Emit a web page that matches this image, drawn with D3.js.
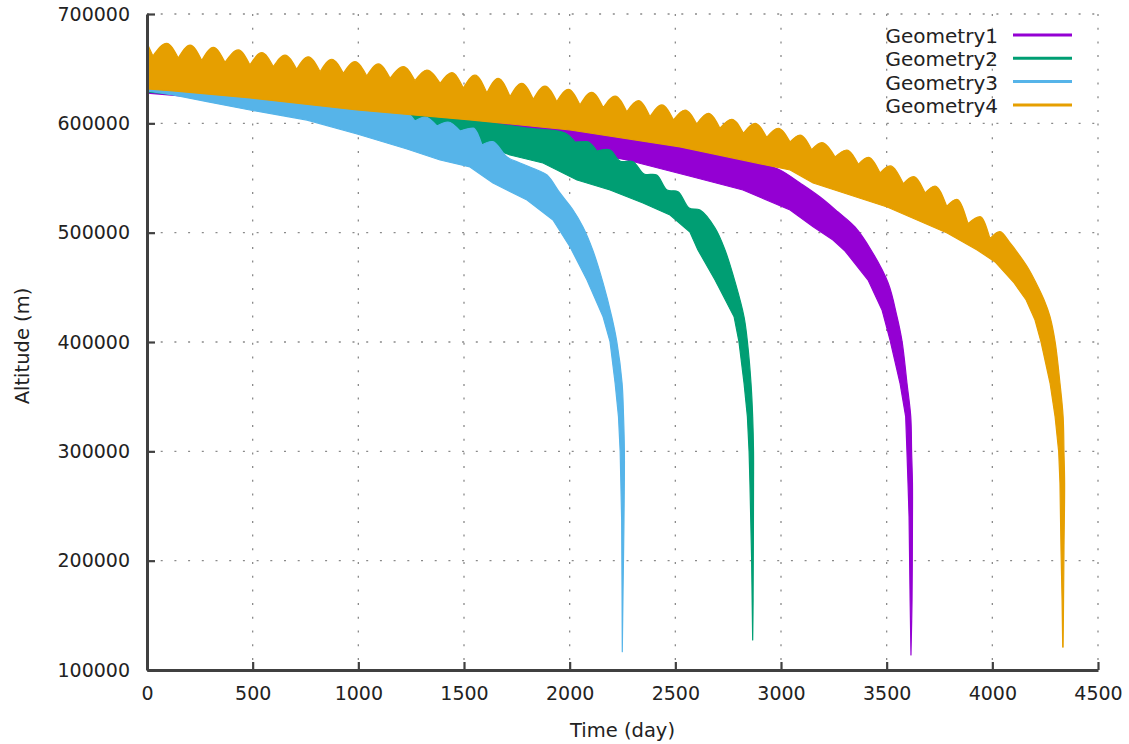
<!DOCTYPE html>
<html>
<head>
<meta charset="utf-8">
<script src="https://cdn.jsdelivr.net/npm/d3@7"></script>
<style>
  body { margin: 0; background: #fff; }
  text { font-family: "DejaVu Sans", sans-serif; fill: #222; }
</style>
</head>
<body>
<svg id="chart" width="1129" height="744"></svg>
<script>
// legend names, in draw order (later ones on top)
const seriesNames = ['Geometry1', 'Geometry2', 'Geometry3', 'Geometry4']

// tick values
const xTicks = [0, 500, 1000, 1500, 2000, 2500, 3000, 3500, 4000, 4500]
const yTicks = [100000, 200000, 300000, 400000, 500000, 600000, 700000]

// each run is a band: upper and lower envelope, [day, altitude m]
const geometry1Upper = [
  [0, 655000], [1197, 635100], [1812, 604900], [2144, 591200], [2617, 577400],
  [2901, 563700], [2995, 557300], [3090, 545400], [3185, 532600], [3270, 518900],
  [3350, 505200], [3426, 484200], [3507, 454000], [3549, 423100], [3573, 400300],
  [3596, 362500], [3614, 331700], [3618, 299700], [3622, 271100], [3622, 237200],
  [3620, 164000], [3615, 113700]
]
const geometry1Lower = [
  [0, 627700], [961, 612200], [1528, 598500], [1860, 584800], [2016, 575600],
  [2271, 566500], [2584, 550900], [2820, 539000], [3043, 520700], [3152, 505500],
  [3246, 493300], [3303, 483200], [3412, 456700], [3478, 429300], [3516, 401800],
  [3563, 362500], [3590, 331700], [3596, 299700], [3601, 271100], [3606, 240200],
  [3611, 164000], [3615, 113700]
]

const geometry2Upper = [
  [0, 655000], [724, 642000], [1268, 614000], [1481, 606100], [1637, 600300],
  [1798, 595700], [1978, 591200], [2025, 582900], [2082, 583200], [2129, 574700],
  [2191, 575600], [2238, 565600], [2300, 564900], [2352, 553700], [2412, 552700],
  [2461, 539000], [2513, 537500], [2565, 522600], [2617, 520700], [2688, 504300],
  [2735, 484200], [2784, 454000], [2825, 423100], [2841, 400300], [2858, 362500],
  [2866, 331700], [2870, 299700], [2870, 271100], [2868, 164000], [2866, 127500]
]
const geometry2Lower = [
  [0, 628700], [961, 610400], [1528, 584800], [1718, 571000], [1874, 563700],
  [2035, 548200], [2191, 539000], [2347, 527100], [2475, 516200], [2569, 500600],
  [2607, 484200], [2688, 456700], [2778, 423100], [2801, 400300], [2825, 362500],
  [2841, 331700], [2849, 299700], [2853, 271100], [2861, 200600], [2866, 127500]
]

const geometry3Upper = [
  [0, 654000], [724, 641000], [1232, 609500], [1268, 602100], [1316, 605800],
  [1372, 597600], [1424, 601200], [1481, 593000], [1543, 595700], [1585, 580200],
  [1637, 583200], [1704, 569200], [1765, 563700], [1846, 557300], [1893, 552700],
  [1954, 536300], [2016, 520700], [2063, 505200], [2109, 484200], [2158, 454000],
  [2199, 423100], [2223, 400300], [2248, 362500], [2255, 331700], [2259, 299700],
  [2257, 237200], [2252, 164000], [2249, 116800]
]
const geometry3Lower = [
  [0, 629600], [123, 625900], [284, 619800], [487, 612200], [757, 603000],
  [994, 590200], [1230, 576500], [1387, 566500], [1528, 560100], [1637, 545400],
  [1798, 529900], [1921, 511600], [2002, 486900], [2082, 456700], [2158, 423100],
  [2191, 400300], [2215, 362500], [2231, 331700], [2239, 299700], [2246, 237200],
  [2248, 164000], [2249, 116800]
]

const geometry4Upper = [
  [0, 673500], [28, 661600], [93, 673200], [148, 659800], [204, 671600],
  [259, 657500], [314, 669500], [369, 655800], [432, 667100], [487, 653400],
  [543, 664600], [598, 651800], [653, 662500], [708, 649400], [763, 660900],
  [819, 647200], [874, 658600], [929, 645800], [984, 656400], [1040, 643300],
  [1095, 654300], [1150, 641200], [1213, 651800], [1268, 639000], [1324, 648800],
  [1387, 636600], [1442, 646300], [1497, 632300], [1552, 644200], [1608, 627700],
  [1662, 641200], [1718, 624400], [1773, 636600], [1828, 622000], [1883, 634100],
  [1939, 619800], [1994, 631100], [2049, 616800], [2104, 628400], [2159, 614300],
  [2215, 625000], [2270, 610600], [2325, 620700], [2380, 606100], [2436, 616800],
  [2491, 603100], [2546, 612200], [2601, 599400], [2656, 609200], [2711, 595500],
  [2767, 603700], [2822, 590900], [2877, 600000], [2932, 587200], [2987, 595500],
  [3043, 582900], [3090, 589300], [3145, 575900], [3193, 582300], [3256, 569200],
  [3311, 575600], [3366, 562500], [3413, 568900], [3469, 554600], [3516, 561000],
  [3579, 544800], [3626, 551200], [3682, 536300], [3729, 542700], [3784, 524100],
  [3832, 530500], [3885, 508200], [3942, 514600], [3989, 494500], [4036, 500900],
  [4084, 490600], [4117, 482300], [4169, 467700], [4207, 454000], [4245, 438400],
  [4273, 423100], [4297, 400300], [4320, 362500], [4335, 331700], [4339, 299400],
  [4342, 271100], [4339, 209800], [4337, 164000], [4335, 121000]
]
const geometry4Lower = [
  [0, 631400], [123, 629600], [487, 623200], [994, 612200], [1528, 603100],
  [2002, 593900], [2522, 578400], [3043, 557300], [3152, 545400], [3502, 523500],
  [3786, 499700], [3928, 484200], [4013, 473200], [4103, 454000], [4160, 438400],
  [4202, 420100], [4230, 400300], [4273, 362500], [4297, 331700], [4314, 299700],
  [4320, 271100], [4325, 209800], [4330, 164000], [4333, 121000]
]

const bands = [
  [geometry1Upper, geometry1Lower],
  [geometry2Upper, geometry2Lower],
  [geometry3Upper, geometry3Lower],
  [geometry4Upper, geometry4Lower]
]
const colors = ['#9400d3', '#009e73', '#56b4e9', '#e69f00']

const margin = { top: 14, right: 31, bottom: 74, left: 147 }
const width = 1129 - margin.left - margin.right
const height = 744 - margin.top - margin.bottom

const svg = d3.select('#chart')
  .append('g')
  .attr('transform', `translate(${margin.left}, ${margin.top})`)

const xScale = d3.scaleLinear().domain([0, 4500]).range([0, width])
const yScale = d3.scaleLinear().domain([100000, 700000]).range([height, 0])

// dotted grid
const grid = svg.append('g').attr('class', 'grid')
grid.selectAll('.gx')
  .data(xTicks.slice(1))
  .enter()
  .append('line')
  .attr('x1', d => xScale(d)).attr('x2', d => xScale(d))
  .attr('y1', 0).attr('y2', height)
grid.selectAll('.gy')
  .data(yTicks.slice(1))
  .enter()
  .append('line')
  .attr('x1', 0).attr('x2', width)
  .attr('y1', d => yScale(d)).attr('y2', d => yScale(d))
grid.selectAll('line')
  .style('stroke', '#8a8a8a')
  .style('stroke-width', '1.3')
  .style('stroke-dasharray', '2 11.7')

// bands: upper edge is cut at its troughs and every bump drawn as an arch
const archLine = d3.line()
  .x(d => xScale(d[0]))
  .y(d => yScale(d[1]))
  .curve(d3.curveMonotoneX)
const smoothLine = d3.line()
  .x(d => xScale(d[0]))
  .y(d => yScale(d[1]))
  .curve(d3.curveCatmullRom.alpha(0.5))
const lowerLine = d3.line()
  .x(d => xScale(d[0]))
  .y(d => yScale(d[1]))

const upperPath = pts => {
  const cuts = [0]
  for (let i = 1; i < pts.length - 1; i++) {
    if (pts[i][1] < pts[i - 1][1] && pts[i][1] < pts[i + 1][1]) cuts.push(i)
  }
  cuts.push(pts.length - 1)
  let d = ''
  for (let k = 0; k < cuts.length - 1; k++) {
    const seg = pts.slice(cuts[k], cuts[k + 1] + 1)
    const isArch = seg.length === 3 && seg[1][1] > seg[0][1] && seg[1][1] > seg[2][1]
    let s = seg.length < 3 ? lowerLine(seg) : (isArch ? archLine(seg) : smoothLine(seg))
    if (k > 0) s = s.replace('M', 'L')
    d += s
  }
  return d
}

const bandPath = d => upperPath(d[0]) + lowerLine(d[1].slice().reverse()).replace('M', 'L') + 'Z'

svg.selectAll('.band')
  .data(bands)
  .enter()
  .append('path')
  .attr('class', 'band')
  .attr('d', bandPath)
  .style('fill', (d, i) => colors[i])
  .attr('stroke', (d, i) => colors[i])
  .attr('stroke-width', 1.2)
  .attr('stroke-linejoin', 'round')

// axes
svg.append('g')
  .attr('class', 'axis')
  .attr('transform', `translate(0, ${height})`)
  .call(d3.axisBottom(xScale).tickValues(xTicks).tickFormat(d3.format('d'))
    .tickSizeInner(-8).tickSizeOuter(0).tickPadding(17))

svg.append('g')
  .attr('class', 'axis')
  .call(d3.axisLeft(yScale).tickValues(yTicks).tickFormat(d3.format('d'))
    .tickSizeInner(-8).tickSizeOuter(0).tickPadding(17))

svg.selectAll('.axis .domain')
  .style('stroke', '#404040')
  .style('stroke-width', '3')
svg.selectAll('.axis .tick line')
  .style('stroke', '#404040')
  .style('stroke-width', '2.2')
svg.selectAll('.axis text')
  .style('font-family', '"DejaVu Sans", sans-serif')
  .style('font-size', '19px')
  .style('fill', '#222')

// axis titles
svg.append('text')
  .attr('x', width / 2)
  .attr('y', height + 67)
  .attr('text-anchor', 'middle')
  .style('font-size', '19.5px')
  .text('Time (day)')

svg.append('text')
  .attr('transform', `translate(${-118}, ${height / 2 + 4}) rotate(-90)`)
  .attr('text-anchor', 'middle')
  .style('font-size', '19.5px')
  .text('Altitude (m)')

// legend
const legend = svg.selectAll('.lineLegend')
  .data(seriesNames)
  .enter()
  .append('g')
  .attr('class', 'lineLegend')
  .attr('transform', (d, i) => `translate(${width - 100}, ${22 + i * 23.3})`)

legend.append('text')
  .attr('x', 0)
  .attr('dy', '0.35em')
  .attr('text-anchor', 'end')
  .style('font-size', '20px')
  .text(d => d)

legend.append('line')
  .attr('x1', 15).attr('x2', 74)
  .attr('y1', -1).attr('y2', -1)
  .attr('stroke', (d, i) => colors[i])
  .attr('stroke-width', 3)
</script>
</body>
</html>
